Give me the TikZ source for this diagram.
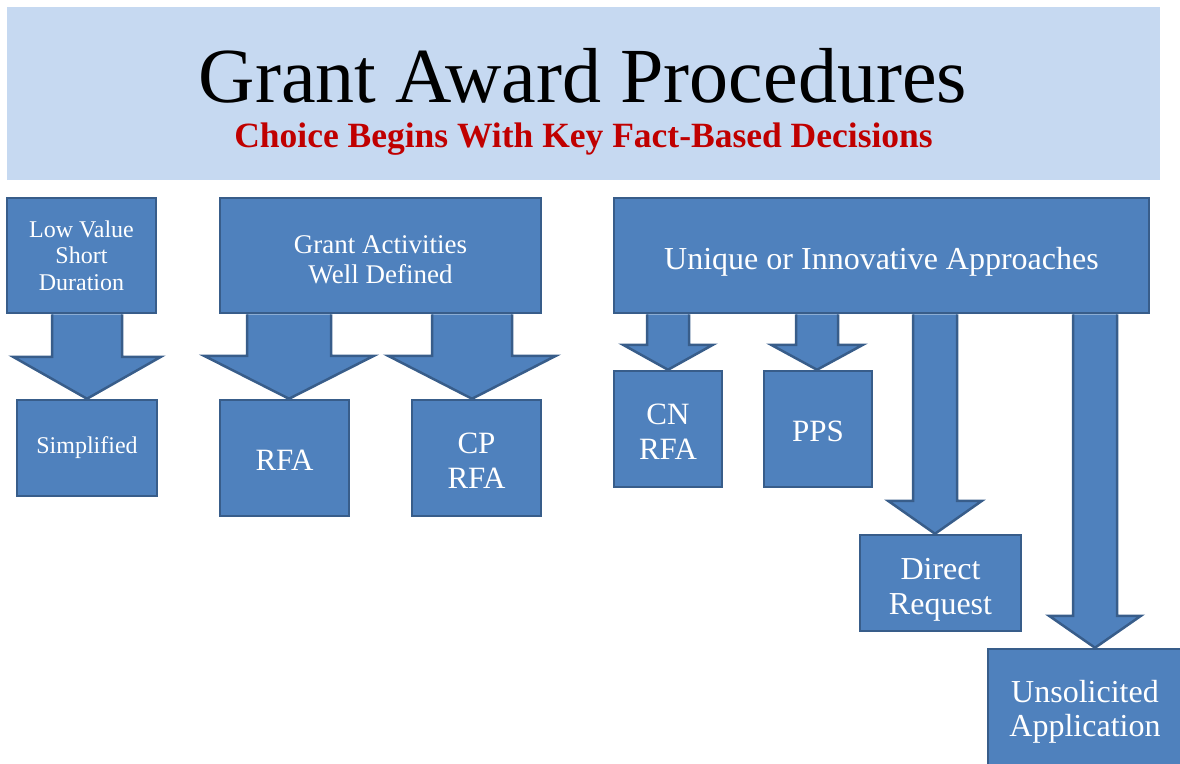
\documentclass[tikz,border=0pt]{standalone}
\usepackage{fontspec}
\setmainfont{Liberation Serif}
\usetikzlibrary{calc}

\definecolor{boxblue}{HTML}{4F81BD}
\definecolor{boxedge}{HTML}{385D8A}
\definecolor{bannerblue}{HTML}{C6D9F1}
\definecolor{titlered}{HTML}{C00000}

% block arrow: from, to, x, shaft half width, head half width, head length
\newcommand{\fatarrow}[6]{%
  \filldraw[arrowbody] let \p1=(#1.south), \p2=(#2.north) in
    ({(#3-#4)*1pt},\y1) -- ({(#3-#4)*1pt},{\y2+#6pt}) -- ({(#3-#5)*1pt},{\y2+#6pt})
    -- ({#3*1pt},\y2) -- ({(#3+#5)*1pt},{\y2+#6pt}) -- ({(#3+#4)*1pt},{\y2+#6pt})
    -- ({(#3+#4)*1pt},\y1);
}
% taller first line, pushes the text down a little
\newcommand{\lift}[1]{\rule{0pt}{#1}}

\begin{document}
\begin{tikzpicture}[
    x=1pt, y=-1pt,
    box/.style={rectangle,draw=boxedge,fill=boxblue,line width=2.5pt,text=white,align=center,inner sep=0pt},
    arrowbody/.style={draw=boxedge,fill=boxblue,line width=2.5pt},
    small/.style={font=\fontsize{24}{26.5}\selectfont},
    medium/.style={font=\fontsize{27}{30}\selectfont},
    large/.style={font=\fontsize{31}{35}\selectfont}
]
\useasboundingbox (0,0) rectangle (1180,763);
\clip (0,0) rectangle (1180,763);

% banner
\fill[bannerblue] (7,7) rectangle (1160,180);
\node[anchor=base,font=\fontsize{78}{80}\selectfont] (title) at (583,102) {Grant Award Procedures};
\node[anchor=base,text=titlered,font=\bfseries\fontsize{35.5}{40}\selectfont] (subtitle) at (583.5,147) {Choice Begins With Key Fact-Based Decisions};

% top row
\node[box,small,minimum width=149,minimum height=115] (lowvalue) at (81.5,255.5) {Low Value\\Short\\Duration};
\node[box,medium,minimum width=321,minimum height=115] (defined) at (380.5,255.5) {\lift{26pt}Grant Activities\\Well Defined};
\node[box,font=\fontsize{32}{34}\selectfont,minimum width=535,minimum height=115] (unique) at (881.5,255.5) {\lift{34pt}Unique or Innovative Approaches};

% procedures
\node[box,small,minimum width=140,minimum height=96] (simplified) at (87,448) {Simplified};
\node[box,large,minimum width=129,minimum height=116] (rfa) at (284.5,458) {\lift{25pt}RFA};
\node[box,large,minimum width=129,minimum height=116] (cprfa) at (476.5,458) {\lift{25pt}CP\\RFA};
\node[box,large,minimum width=108,minimum height=116] (cnrfa) at (668,429) {\lift{25pt}CN\\RFA};
\node[box,large,minimum width=108,minimum height=116] (pps) at (818,429) {\lift{25pt}PPS};
\node[box,large,font=\fontsize{32}{35}\selectfont,minimum width=161,minimum height=96] (direct) at (940.5,583) {\lift{34pt}Direct\\Request};
\node[box,font=\fontsize{32}{34}\selectfont,minimum width=194,minimum height=118] (unsolicited) at (1085,708) {\lift{30pt}Unsolicited\\Application};

% arrows
\fatarrow{lowvalue}{simplified}{87}{35}{74}{42}
\fatarrow{defined}{rfa}{289}{42}{85}{43}
\fatarrow{defined}{cprfa}{472}{40}{84}{43}
\fatarrow{unique}{cnrfa}{668}{21}{45}{25}
\fatarrow{unique}{pps}{817}{21}{46}{25}
\fatarrow{unique}{direct}{935}{22}{47}{33}
\fatarrow{unique}{unsolicited}{1095}{22}{46}{32}
\end{tikzpicture}
\end{document}
